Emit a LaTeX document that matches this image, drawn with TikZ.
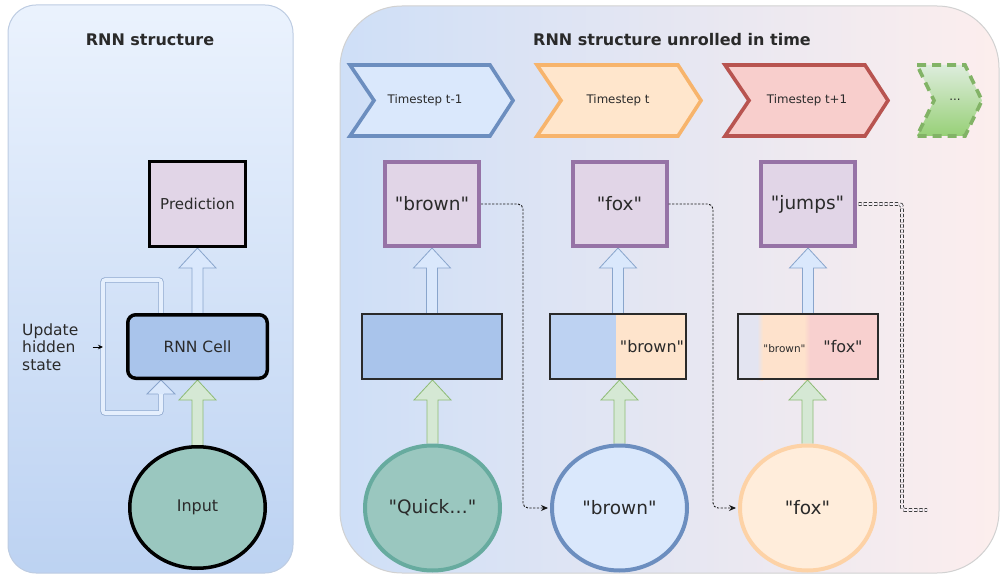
\documentclass[tikz,border=0pt]{standalone}
\usepackage{fontspec}
\setmainfont[Ligatures=TeXOff]{DejaVu Sans}
\usetikzlibrary{shapes.geometric,arrows.meta,calc}

\pgfdeclarelayer{back}
\pgfdeclarelayer{mid}
\pgfsetlayers{back,mid,main}

\definecolor{ink}{HTML}{2A2A2A}
\definecolor{blueF}{HTML}{DAE8FC}
\definecolor{blueS}{HTML}{6C8EBF}
\definecolor{cellF}{HTML}{A9C4EB}
\definecolor{purpF}{HTML}{E1D5E7}
\definecolor{purpS}{HTML}{9673A6}
\definecolor{greenF}{HTML}{D5E8D4}
\definecolor{greenS}{HTML}{82B366}
\definecolor{greenG}{HTML}{97D077}
\definecolor{tealF}{HTML}{9AC7BF}
\definecolor{tealS}{HTML}{67AB9F}
\definecolor{orangeF}{HTML}{FFE6CC}
\definecolor{orangeS}{HTML}{F7B46C}
\definecolor{orangeL}{HTML}{FDD2A6}
\definecolor{redF}{HTML}{F8CECC}
\definecolor{redS}{HTML}{B85450}
\definecolor{mistF}{HTML}{E3E4F1}

% block arrow pointing up, from a lower anchor to an upper anchor
\newcommand\blockarrow[3]{%
  \path[#1] let \p1=(#2), \p2=(#3) in
    (\x1-5.5pt,\y1) -- (\x1-5.5pt,\y2-20pt) -- (\x1-18.5pt,\y2-20pt) --
    (\x1,\y2) -- (\x1+18.5pt,\y2-20pt) -- (\x1+5.5pt,\y2-20pt) -- (\x1+5.5pt,\y1);}

\tikzset{
  every node/.style={text=ink, inner sep=0pt},
  titletext/.style={font=\fontsize{16}{18}\selectfont\bfseries},
  smalltext/.style={font=\fontsize{15.5}{17.5}\selectfont},
  wordtext/.style={font=\fontsize{18.5}{20}\selectfont},
  midtext/.style={font=\fontsize{16}{18}\selectfont},
  steptext/.style={font=\fontsize{11.8}{14}\selectfont},
  blueblk/.style={fill=blueF, draw=blueS!80, line width=0.8pt},
  greenblk/.style={fill=greenF, draw=greenS!90, line width=0.8pt},
  loopline/.style={draw=blueS!75, line width=0.8pt, double=blueF!70!white,
    double distance=3.6pt, rounded corners=2pt},
  chevron/.style={line width=3.6pt, line join=miter},
  predword/.style={draw=purpS, fill=purpF, line width=4pt,
    minimum width=94pt, minimum height=84pt, wordtext},
  hidbox/.style={draw=ink, line width=2pt, minimum width=140pt, minimum height=65pt},
  wordcirc/.style={ellipse, line width=4pt, minimum width=135pt,
    minimum height=125pt, wordtext},
  dotline/.style={draw=black!90, line width=0.9pt, dash pattern=on 2.2pt off 1.5pt,
    rounded corners=5pt},
  dblline/.style={draw=black!85, line width=0.7pt, double=white!60!purpF,
    double distance=2.4pt, dash pattern=on 3.2pt off 2pt, rounded corners=3pt},
  tip/.style={-{Stealth[length=7pt,width=6pt]}}
}

\begin{document}
\begin{tikzpicture}[x=1pt,y=-1pt]
\useasboundingbox (0,0) rectangle (1002,575);

% ---------------- panels ----------------
\begin{pgfonlayer}{back}
  \draw[draw=blueS!45, line width=1pt, top color=blueF!55!white,
        bottom color=cellF!60!blueF, rounded corners=28pt] (8,5) rectangle (293,573);
  \draw[draw=black!18, line width=1pt, left color=cellF!35!blueF!90!white,
        right color=redF!35!white, rounded corners=62pt] (340,6) rectangle (999,573);
\end{pgfonlayer}

% ---------------- left: folded RNN ----------------
\node[titletext] (ttl1) at (150,40) {RNN structure};

\node[draw=black, fill=purpF, line width=3pt, minimum width=96pt, minimum height=85pt,
      font=\fontsize{15}{17}\selectfont] (pred) at (197.5,204) {Prediction};
\node[draw=black, fill=cellF, line width=3.5pt, rounded corners=8pt,
      minimum width=139.5pt, minimum height=63.5pt,
      font=\fontsize{15.5}{17}\selectfont] (cell) at (197.5,346.5) {RNN Cell};
\node[ellipse, draw=black, fill=tealF, line width=3.5pt, minimum width=135.5pt,
      minimum height=121.5pt, font=\fontsize{16}{18}\selectfont] (inp) at (197.5,507.5) {Input};

\node[smalltext, anchor=west, align=left] (upd) at (22,347) {Update\\hidden\\state};
\coordinate (loopin) at (103,347);
\coordinate (ls) at ([xshift=35pt]cell.north west);
\coordinate (lh) at ([xshift=35pt]cell.south west);

\begin{pgfonlayer}{mid}
  \blockarrow{blueblk}{cell.north}{pred.south}
  \blockarrow{greenblk}{inp.north}{cell.south}
  \draw[loopline] (ls) -- ++(0,-33) -| ($(lh)+(-58,33)$) -| ($(lh)+(0,14)$);
  \fill[blueF] ($(lh)+(-14,14)$) -- (lh) -- ($(lh)+(14,14)$) -- cycle;
  \draw[blueS!80, line width=0.8pt] ($(lh)+(-3,14)$) -- ($(lh)+(-14,14)$) -- (lh)
       -- ($(lh)+(14,14)$) -- ($(lh)+(3,14)$);
\end{pgfonlayer}
\draw[line width=0.9pt, -{Stealth[length=5pt,width=4.5pt]}] ([xshift=14pt]upd.east) -- (loopin);

% ---------------- right: unrolled RNN ----------------
\node[titletext] (ttl2) at (672,40) {RNN structure unrolled in time};

% timestep chevrons
\draw[chevron, draw=blueS, fill=blueF]
  (350,65) -- (490,65) -- (513,100.5) -- (490,136) -- (350,136) -- (374,100.5) -- cycle;
\node[steptext] (ts1) at (425,100.5) {Timestep t-1};
\draw[chevron, draw=orangeS, fill=orangeF]
  (537,65) -- (678,65) -- (701,100.5) -- (678,136) -- (537,136) -- (561,100.5) -- cycle;
\node[steptext] (ts2) at (618,100.5) {Timestep t};
\draw[chevron, draw=redS, fill=redF]
  (725,65) -- (865,65) -- (888,100.5) -- (865,136) -- (725,136) -- (749,100.5) -- cycle;
\node[steptext] (ts3) at (807,100.5) {Timestep t+1};
\draw[chevron, draw=greenS, top color=greenF!80!white, bottom color=greenG,
      dash pattern=on 9pt off 6pt]
  (917,65) -- (965,65) -- (982,100.5) -- (965,136) -- (917,136) -- (934,100.5) -- cycle;
\node[steptext] (ts4) at (955,100) {...};

% predictions
\node[predword] (p1) at (432,204) {"brown"};
\node[predword] (p2) at (619.5,204) {"fox"};
\node[predword] (p3) at (807.5,204) {"jumps"};

% hidden states
\node[hidbox, fill=cellF] (h1) at (432,346.5) {};
\node[hidbox, minimum width=136pt] (h2) at (618,346.5) {};
\node[hidbox] (h3) at (808,346.5) {};
\begin{pgfonlayer}{mid}
  \fill[cellF!60!blueF] (h2.north west) rectangle ([xshift=67pt]h2.south west);
  \fill[orangeF!90!redF] ([xshift=67pt]h2.north west) rectangle (h2.south east);
  \fill[mistF] (h3.north west) rectangle ([xshift=20pt]h3.south west);
  \shade[left color=mistF, right color=orangeF!85!redF]
    ([xshift=20pt]h3.north west) rectangle ([xshift=26pt]h3.south west);
  \fill[orangeF!85!redF] ([xshift=26pt]h3.north west) rectangle ([xshift=67pt]h3.south west);
  \shade[left color=orangeF!85!redF, right color=redF!95!white]
    ([xshift=67pt]h3.north west) rectangle ([xshift=73pt]h3.south west);
  \fill[redF!95!white] ([xshift=73pt]h3.north west) rectangle (h3.south east);
\end{pgfonlayer}
\node[midtext] (h2t) at (652,346.5) {"brown"};
\node[font=\fontsize{10.5}{12}\selectfont] (h3a) at (784.5,349) {"brown"};
\node[midtext] (h3b) at (843,346.5) {"fox"};

% inputs
\node[wordcirc, draw=tealS, fill=tealF] (c1) at (432.5,508) {"Quick…"};
\node[wordcirc, draw=blueS, fill=blueF] (c2) at (619.5,508) {"brown"};
\node[wordcirc, draw=orangeL, fill=orangeF!70!white] (c3) at (807.5,508) {"fox"};

% block arrows between the stages
\begin{pgfonlayer}{mid}
  \blockarrow{blueblk}{h1.north}{p1.south}
  \blockarrow{blueblk}{h2.north}{p2.south}
  \blockarrow{blueblk}{h3.north}{p3.south}
  \blockarrow{greenblk}{c1.north}{h1.south}
  \blockarrow{greenblk}{c2.north}{h2.south}
  \blockarrow{greenblk}{c3.north}{h3.south}
\end{pgfonlayer}

% predictions fed forward as next inputs
\draw[dotline, tip, shorten >=2pt] (p1.east) -| ([xshift=-27pt]c2.west) -- (c2.west);
\draw[dotline, tip, shorten >=2pt] (p2.east) -| ([xshift=-25pt]c3.west) -- (c3.west);
\coordinate (tail) at (927,510);
\draw[dblline] ([xshift=2pt]p3.east) -| ([xshift=-25pt]tail) -- (tail);

\end{tikzpicture}
\end{document}
